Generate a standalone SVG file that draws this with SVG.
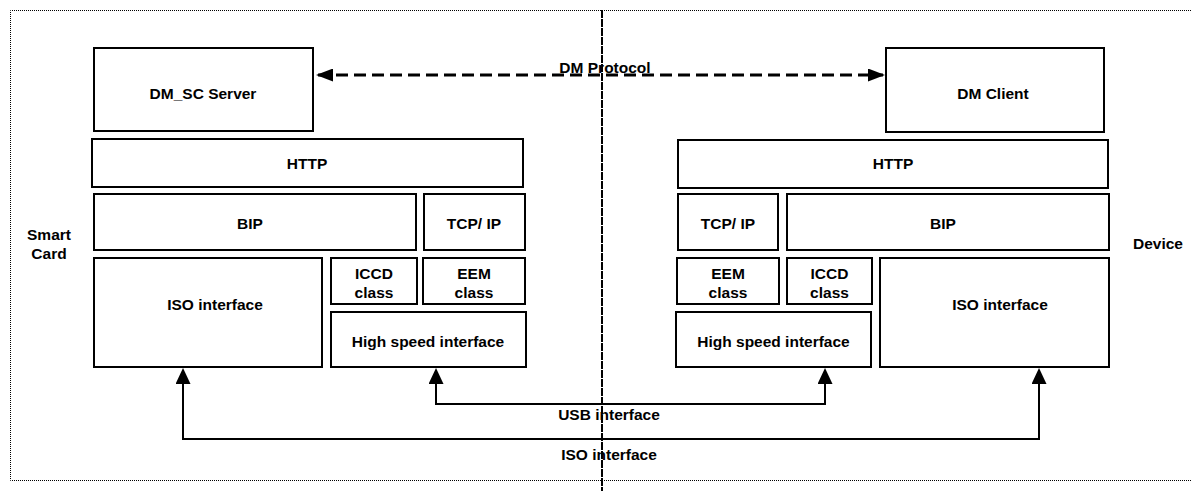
<svg xmlns="http://www.w3.org/2000/svg" width="1191" height="491" viewBox="0 0 1191 491">
<style>
.box{fill:#fff;stroke:#000;stroke-width:2}
.t{font-family:"Liberation Sans",Arial,sans-serif;font-weight:bold;font-size:15.5px;fill:#000;text-anchor:middle}
.frame{fill:none;stroke:#000;stroke-width:1;stroke-dasharray:1 1}
.conn{fill:none;stroke:#000;stroke-width:2}
.dash{fill:none;stroke:#000;stroke-width:3;stroke-dasharray:12 6}
</style>
<defs>
<marker id="tri" viewBox="0 0 16 15" refX="14" refY="7.5" markerWidth="16" markerHeight="15" markerUnits="userSpaceOnUse" orient="auto-start-reverse">
<path d="M0,0 L16,7.5 L0,15 z" fill="#000"/>
</marker>
<marker id="dtri" viewBox="0 0 17 13" refX="15" refY="6.5" markerWidth="17" markerHeight="13" markerUnits="userSpaceOnUse" orient="auto-start-reverse">
<path d="M0,0 L17,6.5 L0,13 z" fill="#000"/>
</marker>
</defs>
<rect width="1191" height="491" fill="#fff"/>
<g id="frame">
<path class="frame" d="M1191,10.5 H10.5 V480.5 H1191"/>
<line x1="602" y1="10" x2="602" y2="491" stroke="#000" stroke-width="2" stroke-dasharray="8 1"/>
</g>
<g id="labels">
<text class="t" x="49" y="239.5">Smart</text>
<text class="t" x="49" y="258.5">Card</text>
<text class="t" x="1158" y="248.5">Device</text>
</g>
<g id="connectors">
<path class="dash" d="M318,75 H883" marker-start="url(#dtri)" marker-end="url(#dtri)"/>
<path class="conn" d="M183,370 V439 H1039 V370" marker-start="url(#tri)" marker-end="url(#tri)"/>
<path class="conn" d="M436,370 V404 H825 V370" marker-start="url(#tri)" marker-end="url(#tri)"/>
<text class="t" x="605" y="72.5">DM Protocol</text>
<text class="t" x="609" y="420">USB interface</text>
<text class="t" x="609" y="460">ISO interface</text>
</g>
<g id="dm-sc-server"><rect class="box" x="94" y="48" width="219" height="83"/><text class="t" x="203" y="98.5">DM_SC Server</text></g>
<g id="dm-client"><rect class="box" x="886" y="48" width="218" height="84"/><text class="t" x="993" y="98.5">DM Client</text></g>
<g id="http-left"><rect class="box" x="92" y="139" width="431" height="48"/><text class="t" x="307" y="168.5">HTTP</text></g>
<g id="http-right"><rect class="box" x="678" y="140" width="430" height="48"/><text class="t" x="893" y="168.5">HTTP</text></g>
<g id="bip-left"><rect class="box" x="94" y="194" width="322" height="56"/><text class="t" x="250" y="228.5">BIP</text></g>
<g id="tcpip-left"><rect class="box" x="424" y="194" width="101" height="56"/><text class="t" x="474" y="228.5">TCP/ IP</text></g>
<g id="tcpip-right"><rect class="box" x="678" y="194" width="100" height="56"/><text class="t" x="728" y="228.5">TCP/ IP</text></g>
<g id="bip-right"><rect class="box" x="787" y="194" width="322" height="56"/><text class="t" x="943" y="228.5">BIP</text></g>
<g id="iso-left"><rect class="box" x="94" y="258" width="228" height="109"/><text class="t" x="215" y="309.5">ISO interface</text></g>
<g id="iccd-left"><rect class="box" x="331" y="258" width="86" height="46"/><text class="t" x="374" y="278.5">ICCD</text><text class="t" x="374" y="297.5">class</text></g>
<g id="eem-left"><rect class="box" x="423" y="258" width="102" height="46"/><text class="t" x="474" y="278.5">EEM</text><text class="t" x="474" y="297.5">class</text></g>
<g id="hs-left"><rect class="box" x="331" y="312" width="195" height="55"/><text class="t" x="428" y="346.5">High speed interface</text></g>
<g id="eem-right"><rect class="box" x="677" y="258" width="102" height="46"/><text class="t" x="728" y="278.5">EEM</text><text class="t" x="728" y="297.5">class</text></g>
<g id="iccd-right"><rect class="box" x="787" y="258" width="85" height="46"/><text class="t" x="829.5" y="278.5">ICCD</text><text class="t" x="829.5" y="297.5">class</text></g>
<g id="hs-right"><rect class="box" x="676" y="312" width="195" height="55"/><text class="t" x="773.5" y="346.5">High speed interface</text></g>
<g id="iso-right"><rect class="box" x="880" y="258" width="229" height="109"/><text class="t" x="1000" y="309.5">ISO interface</text></g>
</svg>
